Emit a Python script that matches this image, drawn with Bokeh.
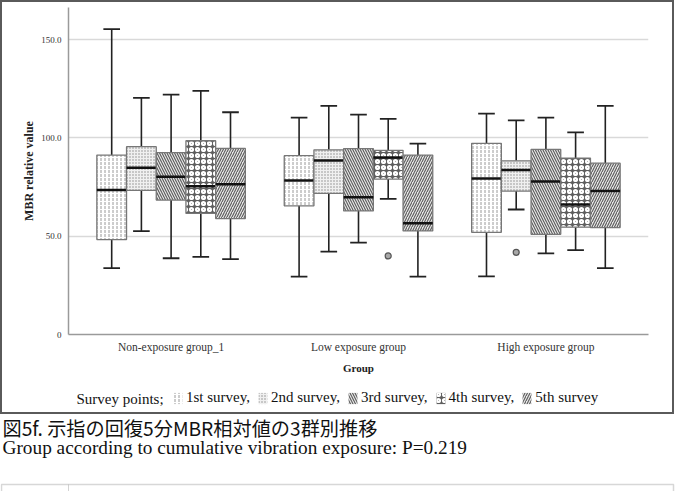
from bokeh.plotting import figure
from bokeh.layouts import column
from bokeh.models import (ColumnDataSource, FactorRange, Range1d, FixedTicker, Label,
                          Legend, LegendItem, BoxAnnotation)
from bokeh.transform import dodge
from bokeh.embed import file_html
from bokeh.resources import INLINE

# ---------------- data ----------------
groups = ["Non-exposure group_1", "Low exposure group", "High exposure group"]
surveys = ["1st survey,", "2nd survey,", "3rd survey,", "4th survey,", "5th survey"]

# each row: one survey, values for the three groups
whisker_low = [[33.8, 29.4, 29.6], [52.6, 42.2, 63.6], [38.8, 46.8, 41.3], [39.5, 69.0, 42.9], [38.4, 29.4, 33.8]]
q1          = [[48.3, 65.5, 52.0], [73.3, 71.8, 73.0], [68.4, 62.9, 51.0], [61.6, 79.1, 54.6], [59.0, 52.7, 54.4]]
median      = [[73.5, 78.4, 79.4], [84.9, 88.6, 83.7], [80.3, 69.9, 77.9], [75.5, 90.1, 66.2], [76.5, 56.6, 73.0]]
q3          = [[91.3, 91.0, 97.3], [95.6, 94.0, 88.4], [92.5, 94.6, 94.2], [98.6, 93.7, 89.8], [94.7, 91.3, 87.2]]
whisker_up  = [[155.4, 110.4, 112.4], [120.4, 116.3, 109.0], [122.1, 111.9, 110.4], [124.0, 109.7, 102.9], [113.1, 97.1, 116.3]]

outlier_group = ["Low exposure group", "High exposure group"]
outlier_survey = [3, 1]
outlier_value = [40.0, 41.8]

y_ticks = [0, 50, 100, 150]
y_tick_labels = ["0", "50.0", "100.0", "150.0"]

legend_title = "Survey points;"
caption_jp = "図5f. 示指の回復5分MBR相対値の3群別推移"
caption_en = "Group according to cumulative vibration exposure: P=0.219"

# ---------------- styles ----------------
SERIF = "Liberation Serif"
box_w = 0.1585
cap_half = box_w * 0.28
hatch_styles = [
    dict(fill_color="#ffffff", hatch_pattern=":", hatch_color="#9a9a9a", hatch_scale=4, hatch_weight=1.0),
    dict(fill_color="#f0f0f0", hatch_pattern=".", hatch_color="#8a8a8a", hatch_scale=3, hatch_weight=1.0),
    dict(fill_color="#e6e6e6", hatch_pattern="\\", hatch_color="#5a5a5a", hatch_scale=5, hatch_weight=1.1),
    dict(fill_color="#5e5e5e", hatch_pattern="o", hatch_color="#ffffff", hatch_scale=6, hatch_weight=2.2),
    dict(fill_color="#e6e6e6", hatch_pattern="/", hatch_color="#5a5a5a", hatch_scale=5, hatch_weight=1.1),
]

BW = 2                 # document frame border width (css)
W1, H1, HL = 670, 378, 32   # chart figure, legend strip (inside bordered box)
FL, FR, FT, FB = 68, 648, 7, 334   # wanted frame edges in page px

# ---------------- chart ----------------
p = figure(width=W1, height=H1, output_backend="svg", toolbar_location=None,
           x_range=FactorRange(factors=groups, range_padding=0.0475, range_padding_units="absolute"),
           y_range=Range1d(0, 166.4),
           min_border_left=FL - BW, min_border_right=W1 + BW - FR,
           min_border_top=FT - BW, min_border_bottom=H1 + BW - FB)
p.outline_line_color = None
p.frame_align = False

p.yaxis.ticker = FixedTicker(ticks=y_ticks)
p.yaxis.major_label_overrides = {t: l for t, l in zip(y_ticks, y_tick_labels)}
p.yaxis.axis_label = "MBR relative value"
p.xaxis.axis_label = "Group"
for ax in (p.xaxis[0], p.yaxis[0]):
    ax.axis_line_color = "#9a9a9a"
    ax.axis_line_width = 1.5
    ax.major_tick_line_color = None
    ax.minor_tick_line_color = None
    ax.major_label_text_font = SERIF
    ax.major_label_text_color = "#333333"
    ax.axis_label_text_font = SERIF
    ax.axis_label_text_font_style = "bold"
    ax.axis_label_text_color = "#222222"
p.yaxis.axis_label_text_font_size = "12px"
p.xaxis.axis_label_text_font_size = "11px"
p.yaxis.major_label_text_font_size = "9px"
p.yaxis.major_label_standoff = 1
p.yaxis.axis_label_standoff = 2
p.xaxis.major_label_text_font_size = "11.5px"
p.xaxis.major_label_standoff = 0
p.xaxis.axis_label_standoff = 6
p.xgrid.grid_line_color = None
p.ygrid.grid_line_color = "#d9d9d9"
p.ygrid.grid_line_width = 1.5

for j, name in enumerate(surveys):
    off = (j - 2) * box_w
    src = ColumnDataSource(dict(g=groups, lo=whisker_low[j], q1=q1[j], med=median[j],
                                q3=q3[j], hi=whisker_up[j]))
    xc = dodge("g", off, range=p.x_range)
    p.segment(x0=xc, x1=xc, y0="q3", y1="hi", source=src, line_color="#222222", line_width=1.6)
    p.segment(x0=xc, x1=xc, y0="lo", y1="q1", source=src, line_color="#222222", line_width=1.6)
    for col in ("hi", "lo"):
        p.segment(x0=dodge("g", off - cap_half, range=p.x_range), x1=dodge("g", off + cap_half, range=p.x_range),
                  y0=col, y1=col, source=src, line_color="#222222", line_width=1.8)
    p.vbar(x=xc, width=box_w, bottom="q1", top="q3", source=src,
           line_color="#777777", line_width=1.3, **hatch_styles[j])
    p.segment(x0=dodge("g", off - box_w / 2, range=p.x_range), x1=dodge("g", off + box_w / 2, range=p.x_range),
              y0="med", y1="med", source=src, line_color="#111111", line_width=2.5)

for g, s, v in zip(outlier_group, outlier_survey, outlier_value):
    osrc = ColumnDataSource(dict(g=[g], v=[v]))
    p.scatter(x=dodge("g", (s - 2) * box_w, range=p.x_range), y="v", source=osrc, size=6,
              marker="circle", fill_color="#a8a8a8", line_color="#555555", line_width=1.2)

# ---------------- legend strip ----------------
pl = figure(width=W1, height=HL, output_backend="svg", toolbar_location=None,
            x_axis_type=None, y_axis_type=None, x_range=Range1d(0, 1), y_range=Range1d(0, 1),
            min_border=0, outline_line_color=None)
pl.frame_align = False
items = []
for j, name in enumerate(surveys):
    # swatch-only renderer (kept outside the visible range; it only feeds the legend)
    r = pl.vbar(x=[-5], bottom=[-5], top=[-4], width=0.1, line_color=None, **hatch_styles[j])
    items.append(LegendItem(label=name, renderers=[r]))
legend_y_center = 398 - (H1 + BW)          # from top of strip
legend = Legend(items=items, orientation="horizontal", location=(172 - BW, HL - legend_y_center - 8),
                glyph_width=11, glyph_height=14, label_standoff=3, spacing=7,
                padding=0, margin=0, border_line_color=None, background_fill_alpha=0,
                label_text_font=SERIF, label_text_font_size="15px", label_text_color="#111111",
                label_height=16)
pl.add_layout(legend, "center")
pl.add_layout(Label(x=76 - BW, y=HL - legend_y_center, x_units="screen", y_units="screen",
                    text=legend_title, text_font=SERIF, text_font_size="15px",
                    text_color="#111111", text_baseline="middle"))

boxed = column(p, pl, spacing=0, styles={"border": f"{BW}px solid #5a5a5a"})

# ---------------- caption ----------------
HC = 491 - (H1 + HL + 2 * BW)
top_c = H1 + HL + 2 * BW
pc = figure(width=682, height=HC, output_backend="svg", toolbar_location=None,
            x_axis_type=None, y_axis_type=None, x_range=Range1d(0, 1), y_range=Range1d(0, 1),
            min_border=0, outline_line_color=None)
pc.frame_align = False
pc.add_layout(Label(x=2, y=HC - (427 - top_c), x_units="screen", y_units="screen", text=caption_jp,
                    text_font="Noto Sans CJK JP", text_font_size="19.2px", text_color="#111111",
                    text_baseline="middle"))
pc.add_layout(Label(x=2, y=HC - (447 - top_c), x_units="screen", y_units="screen", text=caption_en,
                    text_font=SERIF, text_font_size="19.3px", text_color="#111111",
                    text_baseline="middle"))
# top of the next framed figure on the page
pc.add_layout(BoxAnnotation(left=1, right=673, top=HC - (484 - top_c), bottom=-30,
                            left_units="screen", right_units="screen", top_units="screen",
                            bottom_units="screen", fill_alpha=0, line_color="#7a7a7a", line_width=1.5))
pc.add_layout(BoxAnnotation(left=68, right=68, top=HC - (484 - top_c), bottom=-30,
                            left_units="screen", right_units="screen", top_units="screen",
                            bottom_units="screen", fill_alpha=0, line_color="#aaaaaa", line_width=1))

layout = column(boxed, pc, spacing=0)
open("out.html", "w").write(file_html(layout, INLINE))
